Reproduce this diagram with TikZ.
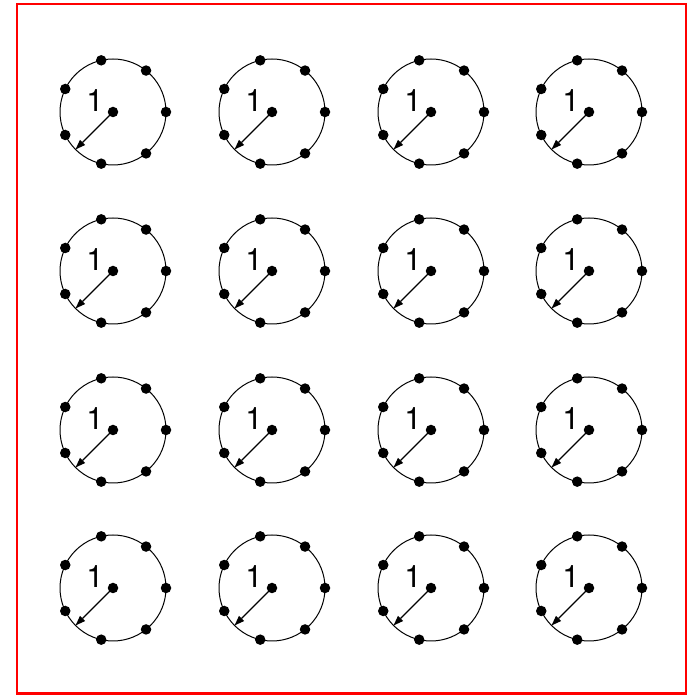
\documentclass[tikz,border=0pt]{standalone}
\usepackage{fontspec}
\setmainfont{TeX Gyre Heros}
\usetikzlibrary{arrows.meta,calc}
\tikzset{
  dotnode/.style={circle,fill=black,inner sep=0pt,minimum size=10.5bp},
  ring/.style={draw=black,line width=1bp},
  radiusarrow/.style={draw=black,line width=1.1bp,-{Triangle[length=10bp,width=7bp]}},
  numlabel/.style={font=\fontsize{31}{31}\selectfont,inner sep=0pt},
  frame/.style={draw=red,line width=2bp}
}
\begin{document}
\begin{tikzpicture}[x=1bp,y=1bp]
\useasboundingbox (0,0) rectangle (687,695);
\draw[frame] (17,1.5) rectangle (685.5,690.5);
\foreach \cx [count=\i] in {113,272,431,589}{
  \foreach \cy [count=\j] in {583,424,265,107}{
    \coordinate (c\i\j) at (\cx,\cy);
    \draw[ring] (c\i\j) circle (53);
    \node[dotnode] (m\i\j) at (c\i\j) {};
    \foreach \k in {0,...,6}{
      \node[dotnode] (d\i\j\k) at ($(c\i\j)+({\k*360/7}:53)$) {};
    }
    \coordinate (t\i\j) at ($(c\i\j)+(225:53)$);
    \draw[radiusarrow] (m\i\j.center) -- (t\i\j);
    \node[numlabel] (l\i\j) at ($(c\i\j)+(-18,11)$) {1};
  }
}
\end{tikzpicture}
\end{document}
